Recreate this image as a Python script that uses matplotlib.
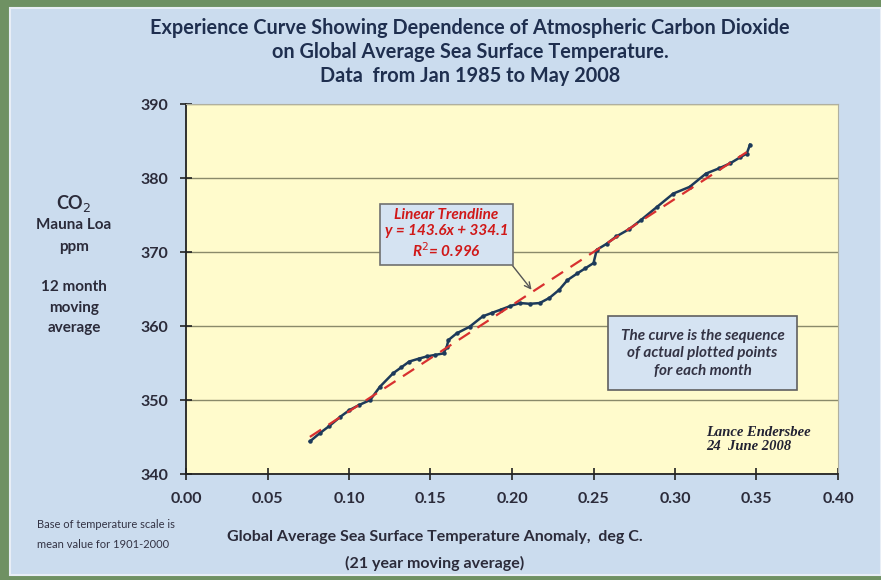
import matplotlib.pyplot as plt
from matplotlib.patches import Rectangle
import numpy as np

plt.rcParams["font.family"] = ["Lato", "DejaVu Sans"]

# SST anomaly (21 yr moving avg) vs CO2 (12 month moving avg), read monthly points
sst = [0.076, 0.082, 0.088, 0.0945, 0.100, 0.106, 0.113, 0.119, 0.127, 0.132,
       0.137, 0.143, 0.148, 0.153, 0.158, 0.160, 0.161, 0.166, 0.174, 0.182,
       0.188, 0.193, 0.199, 0.205, 0.211, 0.217, 0.223, 0.229, 0.234, 0.240,
       0.245, 0.250, 0.252, 0.258, 0.264, 0.272, 0.279, 0.289, 0.299, 0.309,
       0.319, 0.327, 0.334, 0.340, 0.344, 0.346]
co2 = [344.4, 345.5, 346.5, 347.7, 348.6, 349.3, 350.0, 351.8, 353.6, 354.4,
       355.2, 355.6, 355.9, 356.1, 356.3, 357.2, 358.1, 359.0, 359.9, 361.3,
       361.8, 362.2, 362.7, 363.1, 363.0, 363.1, 363.8, 364.9, 366.2, 367.1,
       367.8, 368.5, 370.3, 371.1, 372.1, 373.1, 374.3, 376.1, 377.9, 378.8,
       380.6, 381.3, 382.0, 382.8, 383.3, 384.5]

slope, intercept = 143.6, 334.1
trend_x = [0.076, 0.344]

xticks = [0.00, 0.05, 0.10, 0.15, 0.20, 0.25, 0.30, 0.35, 0.40]
yticks = [340, 350, 360, 370, 380, 390]

navy = "#1f2f4f"
text_gray = "#2b2b3a"


def fy(py):
    # pixel row -> figure fraction
    return 1 - py / 580


fig = plt.figure(figsize=(8.81, 5.80), dpi=100)
fig.patch.set_facecolor("#6f9163")

# light blue panel behind everything
panel = Rectangle((10 / 881, fy(575)), 1 - 10 / 881, (575 - 8) / 580,
                  transform=fig.transFigure, facecolor="#cbdcee",
                  edgecolor="#e8eef6", lw=1.5, zorder=-5)
fig.patches.append(panel)

ax = fig.add_axes([186 / 881, fy(474), (838 - 186) / 881, (474 - 104) / 580])
ax.set_facecolor("#fffbcc")

ax.set_xlim(0, 0.40)
ax.set_ylim(340, 390)
ax.set_xticks(xticks)
ax.set_yticks(yticks)
ax.set_xticklabels(["%.2f" % t for t in xticks])
ax.tick_params(direction="inout", length=8, width=1.2, colors="#222222",
               labelsize=11.5, labelcolor=text_gray, pad=9)
for lab in ax.get_xticklabels() + ax.get_yticklabels():
    lab.set_fontweight("bold")
ax.yaxis.grid(True, color="#8a8a6a", lw=1.0)
ax.set_axisbelow(True)
for side in ["left", "bottom"]:
    ax.spines[side].set_linewidth(1.3)
    ax.spines[side].set_color("#222222")
for side in ["top", "right"]:
    ax.spines[side].set_color("#b0b0a0")

# data curve and trendline
ax.plot(sst, co2, color="#1d3a5a", lw=1.8, marker="o", ms=2.2, zorder=3)
tx = np.array(trend_x)
ax.plot(tx, slope * tx + intercept, color="#d83030", lw=1.6, ls=(0, (6, 4)), zorder=4)

ax.annotate("Linear Trendline\ny = %.1fx + %.1f\nR$^2$= 0.996" % (slope, intercept),
            xy=(0.212, 364.9), xytext=(0.1598, 372.4),
            ha="center", va="center", fontsize=11, fontweight="bold",
            fontstyle="italic", color="#d01818", linespacing=1.2,
            bbox=dict(boxstyle="square,pad=0.3", fc="#d5e3f2", ec="#707070", lw=1.2),
            arrowprops=dict(arrowstyle="->", color="#555555", lw=1.0,
                            shrinkA=0, shrinkB=0, relpos=(1, 0)))

ax.text(0.3169, 356.3, "The curve is the sequence\nof actual plotted points\nfor each month",
        ha="center", va="center", fontsize=11, fontweight="bold",
        fontstyle="italic", color="#333344", linespacing=1.35,
        bbox=dict(boxstyle="square,pad=0.8", fc="#d5e3f2", ec="#606060", lw=1.2))

ax.text(0.319, 344.6, "Lance Endersbee\n24  June 2008", ha="left", va="center",
        fontsize=10.5, fontweight="bold", fontstyle="italic", color="#222233",
        family=["Liberation Serif", "DejaVu Serif"], linespacing=1.1)

# titles
title_lines = ["Experience Curve Showing Dependence of Atmospheric Carbon Dioxide",
               "on Global Average Sea Surface Temperature.",
               "Data  from Jan 1985 to May 2008"]
for py, line in zip([28, 52, 76], title_lines):
    fig.text(470 / 881, fy(py), line, ha="center", va="center",
             fontsize=14.3, fontweight="bold", color=navy)

# y-axis caption
fig.text(74 / 881, fy(203), "CO$_2$", ha="center", va="center",
         fontsize=13, fontweight="bold", color=text_gray)
for py, line in zip([225, 247, 287, 308, 328],
                    ["Mauna Loa", "ppm", "12 month", "moving", "average"]):
    fig.text(74 / 881, fy(py), line, ha="center", va="center",
             fontsize=11, fontweight="bold", color=text_gray)

# x-axis caption
fig.text(435 / 881, fy(537), "Global Average Sea Surface Temperature Anomaly,  deg C.",
         ha="center", va="center", fontsize=11.5, fontweight="bold", color=text_gray)
fig.text(435 / 881, fy(563), "(21 year moving average)",
         ha="center", va="center", fontsize=11.5, fontweight="bold", color=text_gray)
fig.text(37 / 881, fy(525), "Base of temperature scale is",
         ha="left", va="center", fontsize=8, color="#333344")
fig.text(37 / 881, fy(545), "mean value for 1901-2000",
         ha="left", va="center", fontsize=8, color="#333344")

fig.savefig("out.png", dpi=100, facecolor=fig.get_facecolor())
